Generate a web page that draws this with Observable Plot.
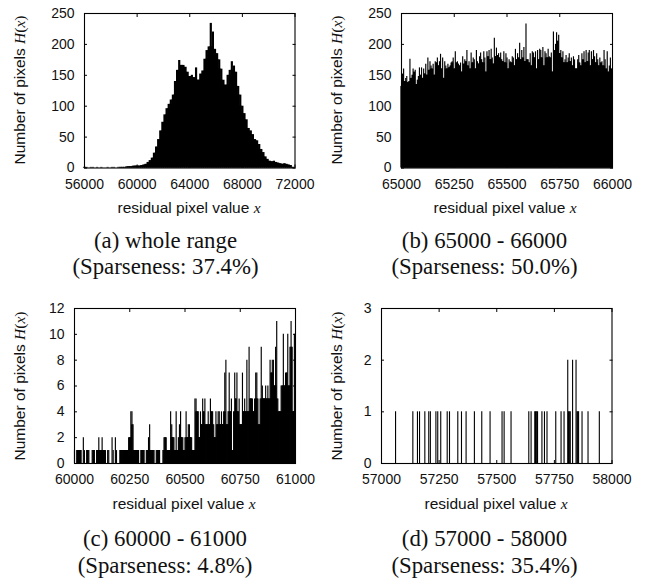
<!DOCTYPE html>
<html><head><meta charset="utf-8">
<script src="https://cdn.jsdelivr.net/npm/d3@7"></script>
<script src="https://cdn.jsdelivr.net/npm/@observablehq/plot@0.6"></script>
<style>
html,body{margin:0;padding:0;background:#fff}
#root{position:relative;width:660px;height:587px;overflow:hidden}
.p{position:absolute}
.lab{position:absolute;font:15.5px "Liberation Sans",sans-serif;color:#111;white-space:nowrap}
.lab i{font-family:"Liberation Serif",serif}
.lab .up{font-family:"Liberation Serif",serif}
.cap{position:absolute;font:22.8px "Liberation Serif",serif;color:#111;white-space:nowrap;transform:translate(-50%,-50%)}
</style></head><body><div id="root"></div>
<script>
// (a) whole range: one value per 160 grey levels from 56000
const aStart = 56000, aStep = 160;
const aValues = [1,1,0,1,1,0,1,0,1,0,0,1,0,1,1,0,1,1,1,1,2,2,2,3,3,
 3,3,4,5,6,9,12,16,24,34,46,60,74,86,96,103,110,118,140,158,174,166,166,163,155,
 148,150,146,162,142,152,157,176,190,196,234,220,192,185,175,160,142,134,150,158,
 172,165,155,132,118,100,88,78,64,60,54,46,44,38,30,25,18,14,11,10,
 11,9,8,7,6,7,6,5,4,1];
// (b) 65000-66000: one value per 5
const bStart = 65000, bStep = 5;
const bValues = [132,152,160,140,145,148,138,140,176,145,150,160,155,158,135,142,148,162,150,162,
145,160,152,168,150,178,158,172,165,160,168,150,172,170,178,165,172,184,160,178,
145,172,165,160,168,162,165,170,172,178,160,188,170,172,168,165,170,155,180,168,
175,172,190,165,172,160,186,170,178,175,160,190,172,168,180,186,175,170,188,178,
155,188,180,190,175,192,178,168,210,180,194,182,185,178,186,175,172,188,170,185,
178,160,175,172,170,180,178,165,192,175,185,178,202,175,190,178,195,172,233,175,
175,170,185,165,188,186,178,188,160,190,175,192,190,178,195,165,188,185,178,192,
180,178,186,155,220,190,200,219,205,215,185,190,178,188,170,175,182,170,178,185,
172,178,165,180,175,160,160,175,182,170,165,185,175,188,170,190,172,186,190,165,
188,175,190,180,170,185,175,165,178,170,172,165,190,175,160,188,155,165,178,160];
// (c) 60000-61000: one value per 5
const cStart = 60000, cStep = 5;
const cValues = [1,0,1,1,1,1,1,0,2,1,0,1,1,1,0,0,1,1,1,0,
1,1,2,1,1,2,1,1,1,0,1,1,0,0,2,1,0,2,1,0,
0,1,1,1,1,1,1,1,1,2,2,4,4,3,1,1,1,1,1,0,
1,1,1,1,0,1,1,2,3,1,1,1,1,0,1,1,1,1,0,0,
1,2,2,2,1,1,1,4,3,2,2,1,4,1,2,3,4,2,2,1,
2,4,2,3,3,2,2,1,1,5,5,4,4,2,4,3,5,4,5,3,
3,4,3,5,4,4,3,2,4,3,4,4,3,4,3,4,7,8,3,4,
7,4,5,1,4,7,5,7,4,5,3,3,7,4,5,4,8,4,9,5,
5,5,4,5,7,7,5,3,5,9,6,5,5,6,5,6,5,8,7,8,
8,6,9,11,5,4,4,6,6,10,6,7,7,10,6,9,11,9,4,10];
// (d) 57000-58000: occupied pixel values and counts
const dX = [57061,57136,57156,57165,57188,57205,57212,57236,57244,57257,57285,57295,57331,57347,57367,57403,57435,57471,57523,57532,57562,57639,57649,57665,57668,57671,57674,57677,57696,57707,57718,57756,57779,57792,57808,57811,57815,57819,57829,57844,57848,57851,57855,57870,57896,57945];
const dY = [1,1,1,1,1,1,1,1,1,1,1,1,1,1,1,1,1,1,1,1,1,1,1,1,1,1,1,1,1,1,1,1,1,1,2,1,1,1,2,2,1,1,1,1,1,1];

const aTicks = [56000,60000,64000,68000,72000], aY = [0,50,100,150,200,250];
const bTicks = [65000,65250,65500,65750,66000], bY = aY;
const cTicks = [60000,60250,60500,60750,61000], cY = [0,2,4,6,8,10,12];
const dTicks = [57000,57250,57500,57750,58000], dY2 = [0,1,2,3];

const captions = [
 ["(a) whole range","(Sparseness: 37.4%)"],
 ["(b) 65000 - 66000","(Sparseness: 50.0%)"],
 ["(c) 60000 - 61000","(Sparseness: 4.8%)"],
 ["(d) 57000 - 58000","(Sparseness: 35.4%)"]];

const series = (xs, ys) => xs.map((x,i)=>({x, y:ys[i]}));
const regular = (start, step, ys) => ys.map((y,i)=>({x:start+i*step, y}));
// solid fill under neighbouring bars, so that only real spikes stay thin
const base = data => data.map((d,i)=>({x:d.x, y:Math.min(d.y,(data[i-1]||d).y,(data[i+1]||d).y)}));

const panels = [
 {data:regular(aStart,aStep,aValues), xd:[56000,72000], yd:[0,250], xt:aTicks, yt:aY, l:83.5,r:294,t:13,b:167.5, sw:2.2, bw:3.2, cap:0, lx:189, ylx:20},
 {data:regular(bStart,bStep,bValues), xd:[65000,66000], yd:[0,250], xt:bTicks, yt:bY, l:400.5,r:611.5,t:13,b:167.5, sw:1.15, bw:2.2, cap:1, lx:505, ylx:337},
 {data:regular(cStart,cStep,cValues), xd:[60000,61000], yd:[0,12], xt:cTicks, yt:cY, l:73.5,r:294.5,t:308,b:463, sw:1.15, bw:1.8, cap:2, lx:184, ylx:20},
 {data:series(dX,dY), xd:[57000,58000], yd:[0,3], xt:dTicks, yt:dY2, l:381,r:611.5,t:308,b:463, sw:1.1, bw:0, cap:3, lx:496, ylx:337}
];
const root = document.getElementById("root");
const M = 60;
const none = () => "";
for (const p of panels){
  const w = p.r-p.l, h = p.b-p.t;
  const chart = Plot.plot({
    width:w+2*M, height:h+2*M,
    marginLeft:M, marginRight:M, marginTop:M, marginBottom:M,
    style:{background:"transparent",fontFamily:'"Liberation Sans",sans-serif',color:"#111",overflow:"visible"},
    x:{domain:p.xd,label:null}, y:{domain:p.yd,label:null},
    marks:[
      Plot.ruleX(p.data,{x:"x",y1:0,y2:"y",stroke:"#000",strokeWidth:p.sw}),
      p.bw ? Plot.ruleX(base(p.data),{x:"x",y1:0,y2:"y",stroke:"#000",strokeWidth:p.bw}) : null,
      Plot.axisX({anchor:"bottom",ticks:p.xt,tickSize:-3,tickPadding:14,tickFormat:d=>String(d),label:null,stroke:"#000",strokeOpacity:1,fontSize:14}),
      Plot.axisX({anchor:"top",ticks:p.xt,tickSize:-3,tickFormat:none,label:null,stroke:"#000",strokeOpacity:1}),
      Plot.axisY({anchor:"left",ticks:p.yt,tickSize:-3,tickPadding:13,tickFormat:d=>String(d),label:null,stroke:"#000",strokeOpacity:1,fontSize:14}),
      Plot.axisY({anchor:"right",ticks:p.yt,tickSize:-3,tickFormat:none,label:null,stroke:"#000",strokeOpacity:1}),
      Plot.frame({stroke:"#000",strokeWidth:1.1})
    ]
  });
  chart.classList.add("p");
  chart.style.left=(p.l-M)+"px"; chart.style.top=(p.t-M)+"px";
  root.appendChild(chart);
  const xl=document.createElement("div"); xl.className="lab";
  xl.innerHTML='residual pixel value <i>x</i>';
  xl.style.left=p.lx+"px"; xl.style.top=(p.b+31.5)+"px"; xl.style.transform="translateX(-50%)";
  root.appendChild(xl);
  const yl=document.createElement("div"); yl.className="lab";
  yl.innerHTML='Number of pixels <i>H</i><span class="up">(</span><i>x</i><span class="up">)</span>';
  yl.style.left=p.ylx+"px"; yl.style.top=((p.t+p.b)/2)+"px"; yl.style.transform="translate(-50%,-50%) rotate(-90deg)";
  root.appendChild(yl);
  const capX = [165.5,484.5,165,484.5][p.cap], capY = p.t<100 ? [241,267] : [539,566];
  captions[p.cap].forEach((t,i)=>{
    const c=document.createElement("div"); c.className="cap"; c.textContent=t;
    c.style.left=capX+"px"; c.style.top=capY[i]+"px"; root.appendChild(c);
  });
}
</script></body></html>
